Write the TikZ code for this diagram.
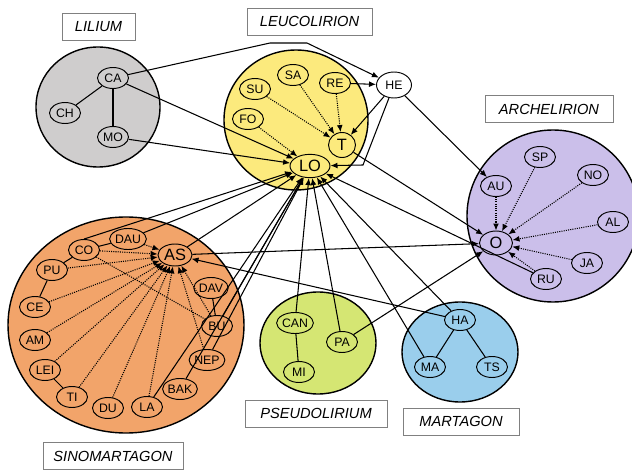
\documentclass[tikz,border=0pt]{standalone}
\usepackage{fontspec}
\setmainfont{Liberation Sans}
\usetikzlibrary{shapes.geometric,arrows.meta}

\definecolor{liliumgray}{RGB}{207,205,205}
\definecolor{leucoyellow}{RGB}{252,234,125}
\definecolor{archepurple}{RGB}{203,191,234}
\definecolor{sinoorange}{RGB}{242,164,106}
\definecolor{pseudogreen}{RGB}{213,230,115}
\definecolor{martablue}{RGB}{154,206,236}

\tikzset{
  sp/.style={draw, ellipse, line width=.8pt, inner sep=0pt, minimum width=9.3mm,
    minimum height=6.3mm, font=\fontsize{10.5}{11}\selectfont},
  bigsp/.style={sp, font=\fontsize{14}{15}\selectfont},
  sect/.style={draw=gray, line width=.6pt, fill=white, minimum height=8.1mm,
    font=\fontsize{12.5}{13}\selectfont\itshape},
  grp/.style={draw, line width=1.2pt},
  dot/.style={->, densely dotted},
}

\begin{document}
\begin{tikzpicture}[x=.3mm, y=-.3mm, >={Latex[length=6pt,width=5pt]}, line width=.9pt]
\useasboundingbox (0,0) rectangle (632,470);

% sections
\draw[grp, fill=liliumgray](98,107) ellipse (62 and 60);
\draw[grp, fill=leucoyellow](296,120) ellipse (72 and 70);
\draw[grp, fill=archepurple](553,216) ellipse (86 and 86);
\draw[grp, fill=sinoorange](126,325) ellipse (118 and 108);
\draw[grp, fill=pseudogreen](318,343) ellipse (58 and 51);
\draw[grp, fill=martablue](460,352) ellipse (58 and 50);

\node[sect, minimum width=21.9mm] (lilium) at (98.5,26.5) {LILIUM};
\node[sect, minimum width=37.5mm] (leucolirion) at (309.5,21.5) {LEUCOLIRION};
\node[sect, minimum width=38.4mm] (archelirion) at (549,109) {ARCHELIRION};
\node[sect, minimum width=42mm] (sinomartagon) at (113,456) {SINOMARTAGON};
\node[sect, minimum width=42.6mm] (pseudolirium) at (316,413.5) {PSEUDOLIRIUM};
\node[sect, minimum width=34.8mm] (martagon) at (461,421.5) {MARTAGON};

% Lilium
\node[sp] (CA) at (113,78) {CA};
\node[sp] (CH) at (65,113) {CH};
\node[sp] (MO) at (113,137) {MO};

% Leucolirion
\node[sp] (SU) at (255,89) {SU};
\node[sp] (SA) at (293,75) {SA};
\node[sp] (RE) at (335,83) {RE};
\node[sp] (FO) at (248,119) {FO};
\node[bigsp, minimum width=8.1mm, minimum height=7.5mm] (T) at (342,145) {T};
\node[bigsp, minimum width=12mm, minimum height=7mm] (LO) at (310,166) {LO};
\node[sp, fill=white, minimum width=10.5mm, minimum height=7.8mm] (HE) at (394,85) {HE};

% Archelirion
\node[sp] (AU) at (496,186) {AU};
\node[sp] (SP) at (540,157) {SP};
\node[sp] (NO) at (593,175) {NO};
\node[sp] (AL) at (613,222) {AL};
\node[sp] (JA) at (587,263) {JA};
\node[sp] (RU) at (546,279) {RU};
\node[bigsp, minimum width=9.9mm, minimum height=7.2mm] (O) at (496,243) {O};

% Sinomartagon
\node[bigsp, minimum width=10.2mm, minimum height=6.6mm] (AS) at (175,255) {AS};
\node[sp] (DAU) at (128,239) {DAU};
\node[sp] (CO) at (84,250) {CO};
\node[sp] (PU) at (52,270) {PU};
\node[sp] (CE) at (35,307) {CE};
\node[sp] (AM) at (35,340) {AM};
\node[sp] (LEI) at (45,370) {LEI};
\node[sp] (TI) at (72,397) {TI};
\node[sp] (DU) at (108,408) {DU};
\node[sp] (LA) at (147,407) {LA};
\node[sp] (BAK) at (180,389) {BAK};
\node[sp] (NEP) at (207,360) {NEP};
\node[sp] (BU) at (217,326) {BU};
\node[sp] (DAV) at (211,288) {DAV};

% Pseudolirium
\node[sp] (CAN) at (295,323) {CAN};
\node[sp] (PA) at (342,342) {PA};
\node[sp] (MI) at (299,372) {MI};

% Martagon
\node[sp] (HA) at (460,320) {HA};
\node[sp] (MA) at (430,367) {MA};
\node[sp] (TS) at (492,367) {TS};

% links inside sections
\foreach \a/\b in {CA/CH,CA/MO,CAN/MI,HA/MA,HA/TS,CO/DAU,PU/CO,CE/PU,LEI/TI,DAV/BU}
    \draw(\a)--(\b);
\draw[densely dotted](CO)--(BU);

% arrows
\draw[->](CO.north)--(LO);
\foreach \s in {CA,MO,DAU,AS,BU,NEP,BAK,LA,CAN,PA,MA,HA,RU}
    \draw[->](\s)--(LO);
\draw[dot](FO)--(LO);
\foreach \s in {SU,SA,RE}
    \draw[dot](\s)--(T);
\draw[->](HE)--(T);
\draw[->](RE)--(HE);
\draw[->](HE)--(AU);
\coordinate (heb) at (363,165);
\draw[->](HE)--(heb)--(LO);
\coordinate (ca1) at (270,43);
\coordinate (ca2) at (307,43);
\draw[->](CA)--(ca1)--(ca2)--(HE);
\foreach \s in {T,AS,PA}
    \draw[->](\s)--(O);
\foreach \s in {AU,SP,NO,AL,JA,RU}
    \draw[dot](\s)--(O);
\draw[->](HA)--(AS);
\foreach \s in {DAU,CO,PU,CE,AM,LEI,TI,DU,LA,NEP,BU}
    \draw[dot](\s)--(AS);

\end{tikzpicture}
\end{document}
